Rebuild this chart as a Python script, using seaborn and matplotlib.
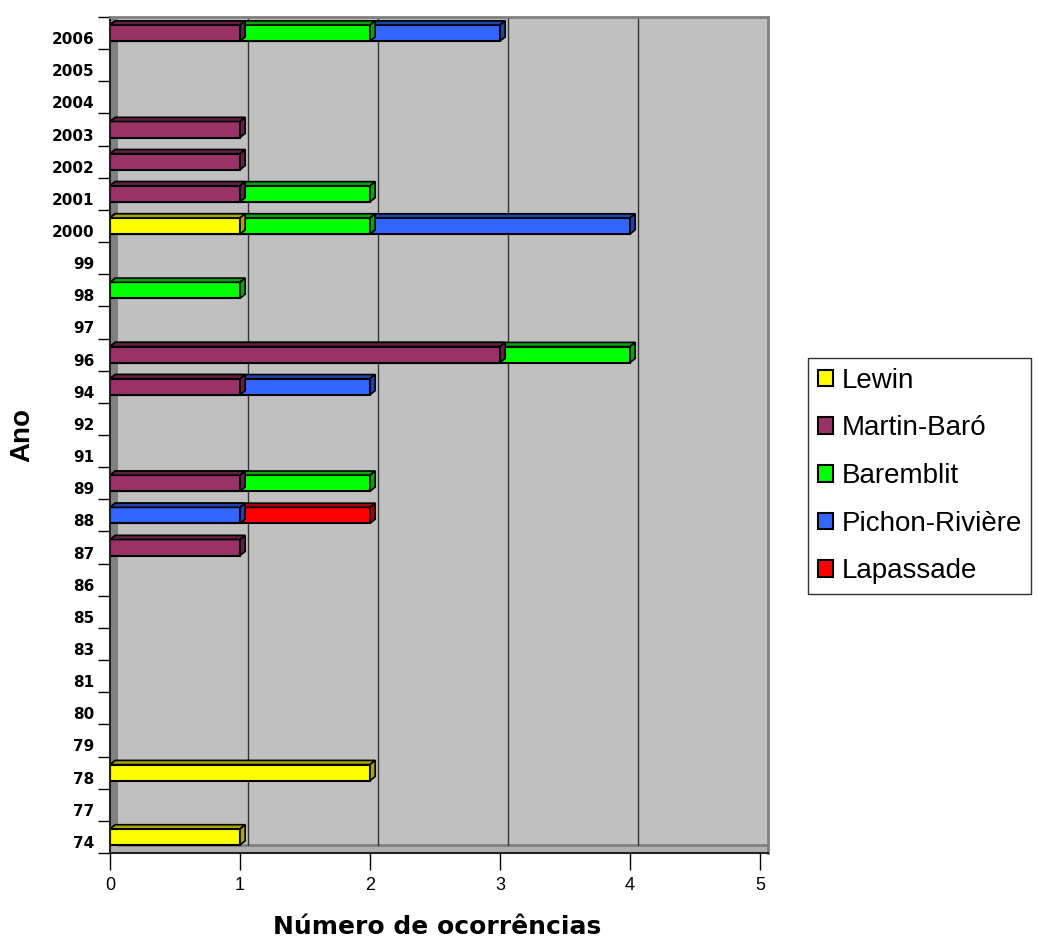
import numpy as np
import pandas as pd
import seaborn as sns
import matplotlib.pyplot as plt
from matplotlib.patches import Patch, Polygon, Rectangle
from matplotlib.transforms import ScaledTranslation
import matplotlib.colors as mcolors

years = ["2006", "2005", "2004", "2003", "2002", "2001", "2000", "99", "98", "97",
         "96", "94", "92", "91", "89", "88", "87", "86", "85", "83",
         "81", "80", "79", "78", "77", "74"]

lewin     = [0, 0, 0, 0, 0, 0, 1, 0, 0, 0, 0, 0, 0, 0, 0, 0, 0, 0, 0, 0, 0, 0, 0, 2, 0, 1]
martin    = [1, 0, 0, 1, 1, 1, 0, 0, 0, 0, 3, 1, 0, 0, 1, 0, 1, 0, 0, 0, 0, 0, 0, 0, 0, 0]
baremblit = [1, 0, 0, 0, 0, 1, 1, 0, 1, 0, 1, 0, 0, 0, 1, 0, 0, 0, 0, 0, 0, 0, 0, 0, 0, 0]
pichon    = [1, 0, 0, 0, 0, 0, 2, 0, 0, 0, 0, 1, 0, 0, 0, 1, 0, 0, 0, 0, 0, 0, 0, 0, 0, 0]
lapassade = [0, 0, 0, 0, 0, 0, 0, 0, 0, 0, 0, 0, 0, 0, 0, 1, 0, 0, 0, 0, 0, 0, 0, 0, 0, 0]

series_names = ["Lewin", "Martin-Baró", "Baremblit", "Pichon-Rivière", "Lapassade"]
series_colors = ["#FFFF00", "#993366", "#00FF00", "#3366FF", "#FF0000"]


def build_frame():
    df = pd.DataFrame({"Ano": years, "Lewin": lewin, "Martin-Baró": martin,
                       "Baremblit": baremblit, "Pichon-Rivière": pichon,
                       "Lapassade": lapassade})
    long = df.melt(id_vars="Ano", var_name="autor", value_name="n")
    long["autor"] = pd.Categorical(long["autor"], series_names, ordered=True)
    long["Ano"] = pd.Categorical(long["Ano"], years, ordered=True)
    long = long.sort_values(["Ano", "autor"])
    long["cum"] = long.groupby("Ano", observed=True)["n"].cumsum()
    return long


def add_depth(ax, patches, color):
    # fake the excel 3d look: a thin top face and right face on each bar
    dx, dy = 0.04, 0.13
    dark = np.array(mcolors.to_rgb(color)) * 0.65
    for p in patches:
        x0, y0 = p.get_x(), p.get_y()
        w, h = p.get_width(), p.get_height()
        if w <= 0:
            continue
        top = [(x0, y0), (x0 + dx, y0 - dy), (x0 + w + dx, y0 - dy), (x0 + w, y0)]
        side = [(x0 + w, y0), (x0 + w + dx, y0 - dy), (x0 + w + dx, y0 + h - dy), (x0 + w, y0 + h)]
        for pts in (top, side):
            ax.add_patch(Polygon(pts, closed=True, facecolor=dark, edgecolor="black",
                                 linewidth=1.2, zorder=p.get_zorder()))


sns.set_style("white")
plt.rcParams["font.family"] = ["Liberation Sans", "DejaVu Sans"]
plt.rcParams["text.color"] = "black"
plt.rcParams["xtick.color"] = "black"
plt.rcParams["ytick.color"] = "black"

df = build_frame()

fig = plt.figure(figsize=(10.37, 9.47), dpi=100)
ax = fig.add_axes([110 / 1037, 1 - 853 / 947, 658 / 1037, 836 / 947])
ax.set_facecolor("#C0C0C0")

# draw the longest (cumulative) bars first, each earlier series on top
for name, color in reversed(list(zip(series_names, series_colors))):
    sub = df[(df["autor"] == name) & (df["n"] > 0)].copy()
    sub["Ano"] = sub["Ano"].astype(str)
    before = len(ax.patches)
    sns.barplot(data=sub, x="cum", y="Ano", order=years, orient="y", color=color,
                saturation=1, width=0.5, edgecolor="black", linewidth=1.5,
                errorbar=None, ax=ax)
    add_depth(ax, ax.patches[before:], color)

ax.set_xlim(0, 5 * 658 / 650)
ax.set_ylim(25.5, -0.5)

# walls
ax.add_patch(Rectangle((0, 0), 8 / 658, 1, transform=ax.transAxes,
                       facecolor="#808080", edgecolor="none", zorder=0.5))
ax.add_patch(Rectangle((0, 0), 1, 8 / 836, transform=ax.transAxes,
                       facecolor="#B0B0B0", edgecolor="none", zorder=0.5))
ax.plot([8 / 658, 1], [8 / 836, 8 / 836], transform=ax.transAxes, color="#808080",
        lw=2, zorder=0.6)
shift = ax.get_xaxis_transform() + ScaledTranslation(8 / 100, 0, fig.dpi_scale_trans)
for v in [1, 2, 3, 4]:
    ax.plot([v, v], [8 / 836, 1], transform=shift, color="#333333", lw=1, zorder=0.6)

for side in ["top", "right"]:
    ax.spines[side].set_color("#808080")
    ax.spines[side].set_linewidth(2)
for side in ["left", "bottom"]:
    ax.spines[side].set_color("#222222")
    ax.spines[side].set_linewidth(1.5)

ax.set_xticks([0, 1, 2, 3, 4, 5])
ax.set_xticklabels(["0", "1", "2", "3", "4", "5"])
ax.tick_params(axis="x", bottom=True, direction="out", length=12, width=1,
               labelsize=13, pad=5)
ax.set_yticks(np.arange(-0.5, 26, 1), minor=True)
ax.tick_params(axis="y", which="major", left=True, length=0, pad=11)
ax.tick_params(axis="y", which="minor", left=True, direction="out", length=9, width=1)
down = ScaledTranslation(0, -5 / 100, fig.dpi_scale_trans)
for lbl in ax.get_yticklabels():
    lbl.set_fontfamily("DejaVu Sans")
    lbl.set_fontweight("bold")
    lbl.set_fontsize(11)
    lbl.set_transform(lbl.get_transform() + down)

ax.set_xlabel("")
ax.set_ylabel("")
fig.text(437 / 1037, 1 - 927 / 947, "Número de ocorrências", fontsize=18,
         fontweight="bold", family="DejaVu Sans", ha="center", va="center")
fig.text(22 / 1037, 1 - 435 / 947, "Ano", fontsize=20, fontweight="bold",
         rotation=90, ha="center", va="center")

handles = [Patch(facecolor=c, edgecolor="black", linewidth=1.5) for c in series_colors]
leg = fig.legend(handles, series_names, loc="upper left",
                 bbox_to_anchor=(808 / 1037, 1 - 358 / 947), fontsize=20,
                 frameon=True, fancybox=False, edgecolor="black",
                 handlelength=0.55, handleheight=0.55, handletextpad=0.3,
                 labelspacing=0.78, borderpad=0.35, borderaxespad=0)
leg.get_frame().set_linewidth(1)

fig.savefig("out.png", dpi=100)
